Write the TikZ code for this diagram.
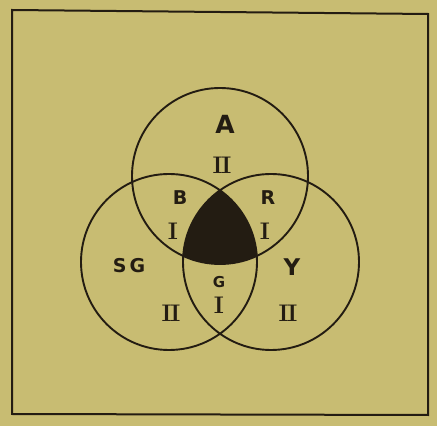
\documentclass[tikz,border=0pt]{standalone}
\usepackage{fontspec}
\setsansfont{DejaVu Sans}
\definecolor{paper}{RGB}{200,188,114}
\definecolor{ink}{RGB}{35,28,18}
\begin{document}
\begin{tikzpicture}[x=1pt, y=1pt,
  ring/.style={draw=ink, line width=1.9pt},
  set/.style={text=ink, font=\sffamily\bfseries\fontsize{19}{19}\selectfont},
  num/.style={text=ink, font=\rmfamily\bfseries\fontsize{24}{24}\selectfont}]
\fill[paper] (0,0) rectangle (437,426);
\useasboundingbox (0,0) rectangle (437,426);
\draw[ink, line width=2pt] (12,416) -- (428,412) -- (428,11) -- (12,12) -- cycle;
% centres of the three sets
\coordinate (ca) at (220,250);
\coordinate (csg) at (169,164);
\coordinate (cy) at (271,164);
% common part of all three sets
\begin{scope}
\clip (ca) circle (88pt);
\clip (csg) circle (88pt);
\fill[ink] (cy) circle (88pt);
\end{scope}
\draw[ring] (ca) circle (88pt);
\draw[ring] (csg) circle (88pt);
\draw[ring] (cy) circle (88pt);
% set names
\node[set, font=\sffamily\bfseries\fontsize{25}{25}\selectfont] (a) at (225,302) {A};
\node[set] (b) at (180,228) {B};
\node[set] (r) at (268,228) {R};
\node[set] (sg) at (129,160) {S\kern3ptG};
\node[set, font=\sffamily\bfseries\fontsize{23}{23}\selectfont] (y) at (292,159) {Y};
\node[set, font=\sffamily\bfseries\fontsize{15}{15}\selectfont] (g) at (219,144) {G};
% numbers
\node[num] (na) at (222,261) {I\kern-1.5ptI};
\node[num] (nb) at (173,195) {I};
\node[num] (nr) at (265,195) {I};
\node[num] (ng) at (219,121) {I};
\node[num] (nsg) at (171,113) {I\kern-1.5ptI};
\node[num] (ny) at (288,113) {I\kern-1.5ptI};
\end{tikzpicture}
\end{document}
